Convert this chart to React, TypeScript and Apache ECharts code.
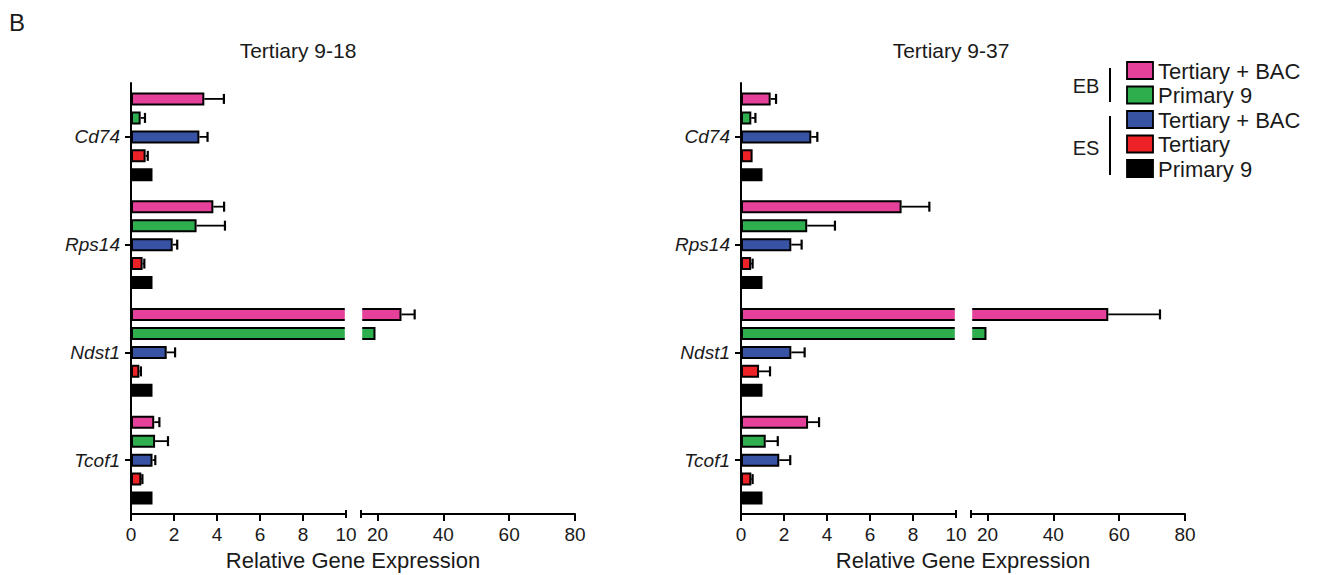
import React, { useEffect, useRef } from 'react';
import * as echarts from 'echarts';

// ---------- data ----------
const GENES = ['Cd74', 'Rps14', 'Ndst1', 'Tcof1'];
const SERIES_NAMES = ['EB Tertiary + BAC', 'EB Primary 9', 'ES Tertiary + BAC', 'ES Tertiary', 'ES Primary 9'];
const SERIES_COLORS = ['#E5409A', '#2EAE4C', '#3953A4', '#EC2227', '#000000'];

const LOW_TICKS = [0, 2, 4, 6, 8, 10];
const HIGH_TICKS = [20, 40, 60, 80];
const LOW_MAX = 10;
const HIGH_MIN = 15;
const HIGH_MAX = 80;

// Tertiary 9-18
const T18_EB_TERT_BAC = [3.41, 3.83, 27.3, 1.08];
const T18_EB_TERT_BAC_ERR = [0.91, 0.5, 4.0, 0.24];
const T18_EB_PRIM9 = [0.45, 3.05, 19.4, 1.12];
const T18_EB_PRIM9_ERR = [0.2, 1.32, 0, 0.6];
const T18_ES_TERT_BAC = [3.18, 1.94, 1.66, 1.0];
const T18_ES_TERT_BAC_ERR = [0.38, 0.21, 0.39, 0.13];
const T18_ES_TERT = [0.68, 0.54, 0.39, 0.48];
const T18_ES_TERT_ERR = [0.1, 0.08, 0.07, 0.05];
const T18_ES_PRIM9 = [1, 1, 1, 1];
const T18_ES_PRIM9_ERR = [0, 0, 0, 0];

// Tertiary 9-37
const T37_EB_TERT_BAC = [1.38, 7.47, 56.7, 3.12];
const T37_EB_TERT_BAC_ERR = [0.25, 1.29, 15.7, 0.51];
const T37_EB_PRIM9 = [0.48, 3.08, 19.7, 1.15];
const T37_EB_PRIM9_ERR = [0.19, 1.29, 0, 0.56];
const T37_ES_TERT_BAC = [3.27, 2.34, 2.34, 1.78];
const T37_ES_TERT_BAC_ERR = [0.28, 0.48, 0.62, 0.51];
const T37_ES_TERT = [0.54, 0.47, 0.84, 0.48];
const T37_ES_TERT_ERR = [0, 0.07, 0.51, 0.06];
const T37_ES_PRIM9 = [1, 1, 1, 1];
const T37_ES_PRIM9_ERR = [0, 0, 0, 0];

const PANEL_TITLES = ['Tertiary 9-18', 'Tertiary 9-37'];
const PANEL_VALUES = [
  [T18_EB_TERT_BAC, T18_EB_PRIM9, T18_ES_TERT_BAC, T18_ES_TERT, T18_ES_PRIM9],
  [T37_EB_TERT_BAC, T37_EB_PRIM9, T37_ES_TERT_BAC, T37_ES_TERT, T37_ES_PRIM9],
];
const PANEL_ERRORS = [
  [T18_EB_TERT_BAC_ERR, T18_EB_PRIM9_ERR, T18_ES_TERT_BAC_ERR, T18_ES_TERT_ERR, T18_ES_PRIM9_ERR],
  [T37_EB_TERT_BAC_ERR, T37_EB_PRIM9_ERR, T37_ES_TERT_BAC_ERR, T37_ES_TERT_ERR, T37_ES_PRIM9_ERR],
];

// ---------- layout ----------
const FONT = '"Liberation Sans", Arial, Helvetica, sans-serif';
const TEXT = '#1a1a1a';
const PANEL_AXIS_X = [131, 741];
const PANEL_TITLE_X = [298, 951];
const LOW_W = 215;
const BREAK_GAP = 15;
const HIGH_W = 214;
const GRID_TOP = 83;
const GRID_H = 431;
const BAR_W = 13;
const BAR_GAP = 0.46;
const PITCH = BAR_W * (1 + BAR_GAP);
const LEGEND_X = 1127;
const LEGEND_Y = 62;
const LEGEND_STEP = 24.5;

function buildOption() {
  const grid: any[] = [];
  const xAxis: any[] = [];
  const yAxis: any[] = [];
  const series: any[] = [];
  const graphic: any[] = [];

  const axisLine = { show: true, lineStyle: { color: '#000', width: 2 } };

  PANEL_TITLES.forEach((title, p) => {
    const ax = PANEL_AXIS_X[p];
    const gLow = 2 * p;
    const gHigh = 2 * p + 1;
    grid.push({ left: ax, top: GRID_TOP, width: LOW_W, height: GRID_H, containLabel: false });
    grid.push({ left: ax + LOW_W + BREAK_GAP, top: GRID_TOP, width: HIGH_W, height: GRID_H, containLabel: false });

    xAxis.push({
      type: 'value', gridIndex: gLow, min: 0, max: LOW_MAX, interval: 2,
      axisLine, splitLine: { show: false },
      axisTick: { show: true, length: 7, lineStyle: { color: '#000', width: 2 }, customValues: LOW_TICKS.slice(0, -1) },
      axisLabel: { fontSize: 19, color: TEXT, fontFamily: FONT, margin: 11, customValues: LOW_TICKS },
    });
    xAxis.push({
      type: 'value', gridIndex: gHigh, min: HIGH_MIN, max: HIGH_MAX,
      axisLine, splitLine: { show: false },
      axisTick: { show: true, length: 7, lineStyle: { color: '#000', width: 2 }, customValues: HIGH_TICKS },
      axisLabel: { fontSize: 19, color: TEXT, fontFamily: FONT, margin: 11, customValues: HIGH_TICKS },
    });
    yAxis.push({
      type: 'category', gridIndex: gLow, data: GENES, inverse: true,
      axisLine, splitLine: { show: false },
      axisTick: { show: true, alignWithLabel: true, length: 6, lineStyle: { color: '#000', width: 2 } },
      axisLabel: { fontSize: 19, fontStyle: 'italic', color: TEXT, fontFamily: FONT, margin: 11 },
    });
    yAxis.push({
      type: 'category', gridIndex: gHigh, data: GENES, inverse: true, show: false,
    });

    const vals = PANEL_VALUES[p];
    const errs = PANEL_ERRORS[p];
    const errLow: any[] = [];
    const errHigh: any[] = [];
    vals.forEach((arr, k) => {
      const itemStyle = { color: SERIES_COLORS[k], borderColor: '#000', borderWidth: 2 };
      series.push({
        type: 'bar', name: SERIES_NAMES[k], xAxisIndex: gLow, yAxisIndex: gLow,
        data: arr, barWidth: BAR_W, barGap: `${BAR_GAP * 100}%`, itemStyle, clip: true, silent: true,
      });
      series.push({
        type: 'bar', name: SERIES_NAMES[k], xAxisIndex: gHigh, yAxisIndex: gHigh,
        data: arr.map((v) => (v > HIGH_MIN ? v : '-')), barWidth: BAR_W, barGap: `${BAR_GAP * 100}%`,
        itemStyle, clip: true, silent: true,
      });
      arr.forEach((v, c) => {
        const e = errs[k][c];
        if (!(e > 0)) return;
        if (v + e <= LOW_MAX) errLow.push([v, c, e, k]);
        else if (v > HIGH_MIN) errHigh.push([v, c, e, k]);
      });
    });

    const renderErr = (params: any, api: any) => {
      const v = api.value(0);
      const c = api.value(1);
      const e = api.value(2);
      const k = api.value(3);
      const p0 = api.coord([v, c]);
      const p1 = api.coord([v + e, c]);
      const y = p0[1] + (k - 2) * PITCH;
      return {
        type: 'group',
        children: [
          { type: 'line', shape: { x1: p0[0], y1: y, x2: p1[0], y2: y }, style: { stroke: '#000', lineWidth: 1.8 } },
          { type: 'line', shape: { x1: p1[0], y1: y - 5, x2: p1[0], y2: y + 5 }, style: { stroke: '#000', lineWidth: 2.2 } },
        ],
      };
    };
    series.push({
      type: 'custom', xAxisIndex: gLow, yAxisIndex: gLow, data: errLow, encode: { x: 0, y: 1 },
      renderItem: renderErr, z: 5, silent: true, clip: true,
    });
    series.push({
      type: 'custom', xAxisIndex: gHigh, yAxisIndex: gHigh, data: errHigh, encode: { x: 0, y: 1 },
      renderItem: renderErr, z: 5, silent: true, clip: true,
    });

    // titles & axis names
    graphic.push({
      type: 'text', x: PANEL_TITLE_X[p], y: 50, z: 110,
      style: { text: title, fontSize: 21, fontFamily: FONT, fill: TEXT, align: 'center', verticalAlign: 'middle' },
    });
    graphic.push({
      type: 'text', x: ax + (LOW_W + BREAK_GAP + HIGH_W) / 2, y: 560, z: 110,
      style: { text: 'Relative Gene Expression', fontSize: 22, fontFamily: FONT, fill: TEXT, align: 'center', verticalAlign: 'middle' },
    });
    // mask the bar ends inside the axis break
    const axisY = GRID_TOP + GRID_H;
    graphic.push({
      type: 'rect', z: 100,
      shape: { x: ax + LOW_W - 1.2, y: GRID_TOP, width: BREAK_GAP + 2.4, height: GRID_H - 5 },
      style: { fill: '#ffffff' },
    });
    // axis break marks
    [ax + LOW_W, ax + LOW_W + BREAK_GAP].forEach((bx) => {
      graphic.push({
        type: 'line', z: 101, shape: { x1: bx, y1: axisY - 4, x2: bx, y2: axisY + 4 },
        style: { stroke: '#000', lineWidth: 2 },
      });
    });
  });

  // panel letter
  graphic.push({
    type: 'text', x: 9, y: 22, z: 110,
    style: { text: 'B', fontSize: 24, fontFamily: FONT, fill: TEXT, align: 'left', verticalAlign: 'middle' },
  });

  // legend (grouped EB / ES)
  SERIES_NAMES.forEach((name, k) => {
    const y = LEGEND_Y + k * LEGEND_STEP;
    graphic.push({
      type: 'rect', z: 110,
      shape: { x: LEGEND_X, y, width: 26, height: 17 },
      style: { fill: SERIES_COLORS[k], stroke: '#000', lineWidth: 1.8 },
    });
    graphic.push({
      type: 'text', x: LEGEND_X + 31, y: y + 9, z: 110,
      style: { text: name.replace(/^E[BS] /, ''), fontSize: 22, fontFamily: FONT, fill: TEXT, align: 'left', verticalAlign: 'middle' },
    });
  });
  graphic.push({
    type: 'text', x: 1086, y: 86, z: 110,
    style: { text: 'EB', fontSize: 20, fontFamily: FONT, fill: TEXT, align: 'center', verticalAlign: 'middle' },
  });
  graphic.push({
    type: 'line', z: 110, shape: { x1: 1110, y1: 68, x2: 1110, y2: 102 }, style: { stroke: '#000', lineWidth: 2 },
  });
  graphic.push({
    type: 'text', x: 1086, y: 148, z: 110,
    style: { text: 'ES', fontSize: 20, fontFamily: FONT, fill: TEXT, align: 'center', verticalAlign: 'middle' },
  });
  graphic.push({
    type: 'line', z: 110, shape: { x1: 1110, y1: 116, x2: 1110, y2: 175 }, style: { stroke: '#000', lineWidth: 2 },
  });

  return {
    animation: false,
    backgroundColor: '#ffffff',
    grid,
    xAxis,
    yAxis,
    series,
    graphic,
  };
}

export default function App() {
  const ref = useRef<HTMLDivElement>(null);
  useEffect(() => {
    if (!ref.current) return;
    const chart = echarts.init(ref.current, null, { renderer: 'svg' });
    chart.setOption(buildOption() as any);
    return () => chart.dispose();
  }, []);
  return (
    <div
      ref={ref}
      style={{ position: 'fixed', left: 0, top: 0, width: 1317, height: 575, background: '#fff' }}
    />
  );
}
